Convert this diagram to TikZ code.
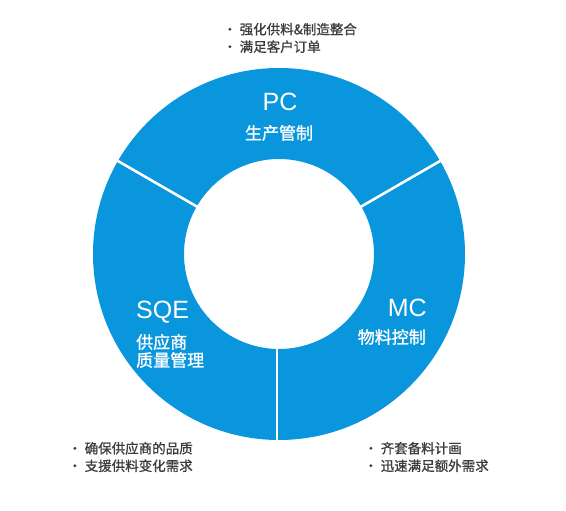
\documentclass[tikz,border=0pt]{standalone}
\usepackage{fontspec}
\usetikzlibrary{calc}
\setmainfont{Liberation Sans}
\newfontfamily\cjk[FakeBold=1.2]{Noto Sans CJK SC}
\newfontfamily\cjkb[FakeBold=0.8]{Noto Sans CJK SC}
\definecolor{ringblue}{RGB}{9,150,220}
\definecolor{txtgray}{RGB}{60,60,60}
\begin{document}
\begin{tikzpicture}[x=1pt,y=-1pt,
  big/.style={text=white,font=\fontsize{25}{28}\selectfont,inner sep=0pt},
  sub/.style={text=white,font=\cjk\fontsize{17}{20}\selectfont,inner sep=0pt},
  bul/.style={text=txtgray,font=\cjkb\fontsize{13.5}{17.5}\selectfont,align=left,inner sep=0pt,anchor=west},
  sep/.style={white,line width=2.6pt}]
\useasboundingbox (0,0) rectangle (566,511);
\fill[white] (0,0) rectangle (566,511);
\coordinate (c) at (279,254);
\fill[ringblue,even odd rule] (c) circle (186pt) (c) circle (95pt);
\coordinate (s1i) at ($(c)+(-30:93)$);
\coordinate (s1o) at ($(c)+(-30:188)$);
\coordinate (s2i) at ($(c)+(-150:93)$);
\coordinate (s2o) at ($(c)+(-150:188)$);
\coordinate (s3i) at (277,346);
\coordinate (s3o) at (277,442);
\draw[sep] (s1i) -- (s1o);
\draw[sep] (s2i) -- (s2o);
\draw[sep] (s3i) -- (s3o);
% labels
\node[big] (pc) at (280,102) {PC};
\node[sub] (pcs) at (279,133) {生产管制};
\node[big,anchor=east] (mc) at (427,308) {MC};
\node[sub,anchor=east] (mcs) at (426,337) {物料控制};
\node[big,anchor=west] (sqe) at (136,312) {SQE};
\node[sub,anchor=west] (sqs1) at (136,342) {供应商};
\node[sub,anchor=west] (sqs2) at (136,360) {质量管理};
% bullets
\node[bul] (b1) at (223,38) {• 强化供料\&制造整合\\• 满足客户订单};
\node[bul] (b2) at (68,457) {• 确保供应商的品质\\• 支援供料变化需求};
\node[bul] (b3) at (364,457) {• 齐套备料计画\\• 迅速满足额外需求};
\end{tikzpicture}
\end{document}
